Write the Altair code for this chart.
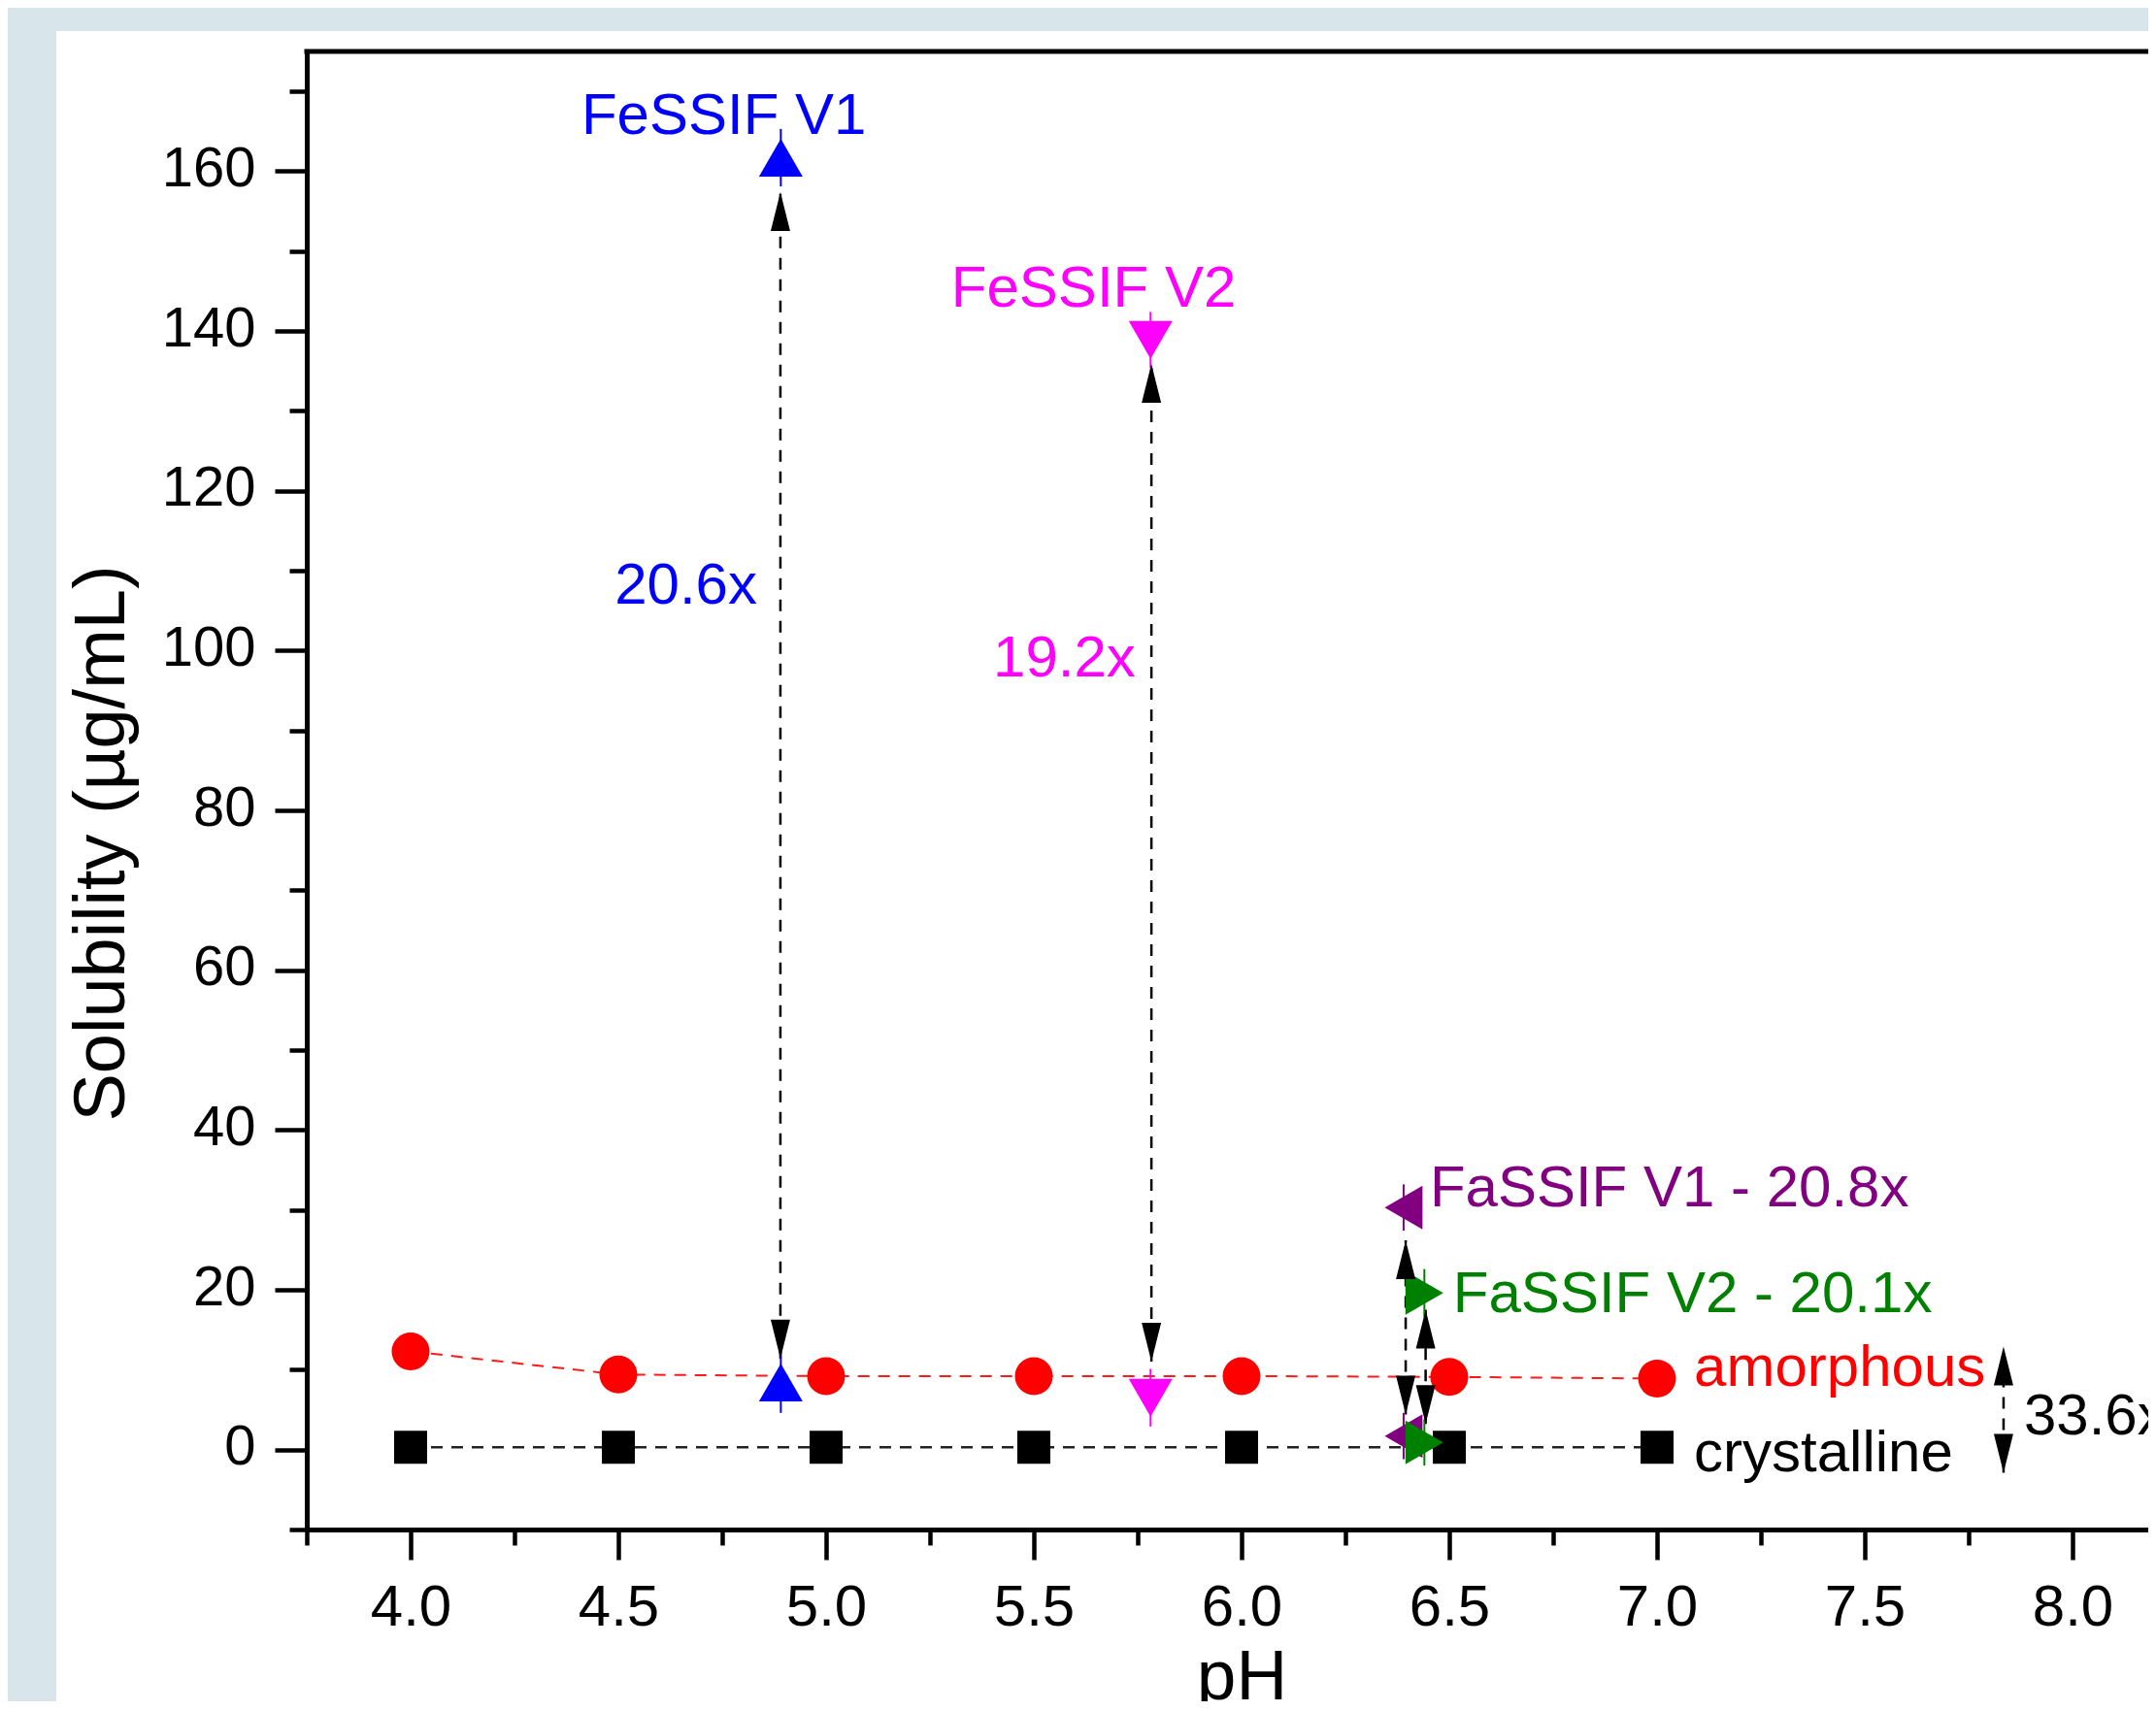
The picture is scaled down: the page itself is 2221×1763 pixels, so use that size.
import altair as alt
import pandas as pd

# ---------------- data ----------------
cryst_ph = [4.0, 4.5, 5.0, 5.5, 6.0, 6.5, 7.0]
cryst_sol = [0.3, 0.3, 0.3, 0.3, 0.3, 0.3, 0.3]

amorph_ph = [4.0, 4.5, 5.0, 5.5, 6.0, 6.5, 7.0]
amorph_sol = [12.3, 9.4, 9.2, 9.2, 9.2, 9.1, 8.9]

media_name = ["FeSSIF V1", "FeSSIF V1", "FeSSIF V2", "FeSSIF V2",
              "FaSSIF V1", "FaSSIF V1", "FaSSIF V2", "FaSSIF V2"]
media_ph = [4.891, 4.891, 5.781, 5.781, 6.39, 6.39, 6.44, 6.44]
media_sol = [161.7, 8.4, 138.9, 6.5, 30.3, 1.7, 19.6, 0.9]
media_err = [3.6, 3.8, 3.5, 3.6, 2.9, 2.9, 3.0, 2.9]
media_shape = ["triangle-up", "triangle-up", "triangle-down", "triangle-down",
               "triangle-left", "triangle-left", "triangle-right", "triangle-right"]
media_color = ["#0000ff", "#0000ff", "#ff00ff", "#ff00ff",
               "#800080", "#800080", "#008000", "#008000"]

arrow_ph = [4.890, 5.783, 6.395, 6.443, 7.834]
arrow_low = [11.4, 11.0, 4.4, 3.2, -2.9]
arrow_high = [157.4, 135.9, 26.2, 17.5, 12.9]

label_text = ["FeSSIF V1", "FeSSIF V2", "20.6x", "19.2x",
              "FaSSIF V1 - 20.8x", "FaSSIF V2 - 20.1x",
              "amorphous", "crystalline", "33.6x"]
label_ph = [4.411, 5.301, 4.491, 5.402, 6.453, 6.509, 7.089, 7.089, 7.883]
label_sol = [164.7, 143.0, 105.9, 96.8, 30.5, 17.25, 8.0, -2.7, 1.9]
label_color = ["#0000ff", "#ff00ff", "#0000ff", "#ff00ff",
               "#800080", "#008000", "#ff0000", "#000000", "#000000"]

x_ticks = [3.75, 4.0, 4.25, 4.5, 4.75, 5.0, 5.25, 5.5, 5.75, 6.0, 6.25, 6.5,
           6.75, 7.0, 7.25, 7.5, 7.75, 8.0]
y_ticks = [-10, 0, 10, 20, 30, 40, 50, 60, 70, 80, 90, 100, 110, 120, 130,
           140, 150, 160, 170]

# ---------------- layout ----------------
W, H = 1897, 1523
XMIN, XMAX = 3.75, 3.75 + W / 428.0
YMIN, YMAX = -10, 175
FONT = "Liberation Sans"

x_scale = alt.Scale(domain=[XMIN, XMAX], nice=False, zero=False)
y_scale = alt.Scale(domain=[YMIN, YMAX], nice=False, zero=False)

x_axis = alt.Axis(
    values=x_ticks,
    labelExpr="(datum.value * 2) % 1 === 0 ? format(datum.value, '.1f') : ''",
    tickSize={"condition": {"test": "(datum.value * 2) % 1 === 0", "value": 31}, "value": 16},
    tickWidth=4.5, tickColor="black",
    domainColor="black", domainWidth=5, domainCap="square",
    labelFont=FONT, labelFontSize=60, labelColor="black",
    labelPadding=67.5, labelBaseline="alphabetic",
    labelOverlap=False, labelFlush=False,
    grid=False, zindex=2,
    title="pH", titleFont=FONT, titleFontSize=73, titleFontWeight="normal",
    titleColor="black", titleX=963, titleY=174, titleAlign="center",
    titleBaseline="alphabetic",
)
y_axis = alt.Axis(
    values=y_ticks, format="d",
    labelExpr="datum.value % 20 === 0 ? datum.label : ''",
    tickSize={"condition": {"test": "datum.value % 20 === 0", "value": 33}, "value": 18},
    tickWidth=4.5, tickColor="black",
    domainColor="black", domainWidth=5, domainCap="square",
    labelFont=FONT, labelFontSize=58, labelColor="black",
    labelPadding=20, labelBaseline="alphabetic", labelOffset=15,
    labelOverlap=False, labelFlush=False,
    grid=False, zindex=2,
    title="Solubility (\u00b5g/mL)", titleFont=FONT, titleFontSize=74,
    titleFontWeight="normal", titleColor="black", titleAngle=270,
    titleX=-189, titleY=815.5, titleAlign="center", titleBaseline="alphabetic",
)


def X(field):
    return alt.X(field, type="quantitative", scale=x_scale, axis=x_axis)


def Y(field):
    return alt.Y(field, type="quantitative", scale=y_scale, axis=y_axis)


cryst_df = pd.DataFrame({"ph": cryst_ph, "sol": cryst_sol})
amorph_df = pd.DataFrame({"ph": amorph_ph, "sol": amorph_sol})
media_df = pd.DataFrame({"ph": media_ph, "sol": media_sol, "name": media_name,
                         "shape": media_shape, "color": media_color})
media_df["lo"] = media_df["sol"] - pd.Series(media_err)
media_df["hi"] = media_df["sol"] + pd.Series(media_err)
arrow_df = pd.DataFrame({"ph": arrow_ph, "lo": arrow_low, "hi": arrow_high})
label_df = pd.DataFrame({"ph": label_ph, "sol": label_sol, "text": label_text,
                         "color": label_color})
one = pd.DataFrame({"k": [0]})

# white panel behind the plot
panel = alt.Chart(one).mark_rect(color="white").encode(
    x=alt.value(-258), x2=alt.value(W + 40), y=alt.value(-21), y2=alt.value(H + 400)
)
# top frame line
top_frame = alt.Chart(one).mark_rule(color="black", strokeWidth=5).encode(
    x=alt.value(-2.5), x2=alt.value(W + 40), y=alt.value(0)
)

cryst_line = alt.Chart(cryst_df).mark_line(
    color="#222222", strokeWidth=2.5, strokeDash=[12, 9]
).encode(x=X("ph"), y=Y("sol"))
amorph_line = alt.Chart(amorph_df).mark_line(
    color="#ff1a1a", strokeWidth=2, strokeDash=[12, 9]
).encode(x=X("ph"), y=Y("sol"))

arrow_lines = alt.Chart(arrow_df).mark_rule(
    color="black", strokeWidth=2.5, strokeDash=[12, 10]
).encode(x=X("ph"), y=Y("lo"), y2="hi")
arrow_up = alt.Chart(arrow_df).mark_point(
    shape="M0,0 L-0.5,2 L0.5,2 Z", filled=True, size=1600, color="black", opacity=1
).encode(x=X("ph"), y=Y("hi"))
arrow_down = alt.Chart(arrow_df).mark_point(
    shape="M0,0 L-0.5,-2 L0.5,-2 Z", filled=True, size=1600, color="black", opacity=1
).encode(x=X("ph"), y=Y("lo"))

err_bars = alt.Chart(media_df).mark_rule(strokeWidth=2).encode(
    x=X("ph"), y=Y("lo"), y2="hi", color=alt.Color("color:N", scale=None)
)

cryst_pts = alt.Chart(cryst_df).mark_point(
    shape="square", filled=True, size=1156, color="black", opacity=1
).encode(x=X("ph"), y=Y("sol"))
amorph_pts = alt.Chart(amorph_df).mark_point(
    shape="circle", filled=True, size=1521, color="#ff0000", opacity=1
).encode(x=X("ph"), y=Y("sol"))
media_pts = alt.Chart(media_df).mark_point(filled=True, size=2025, opacity=1).encode(
    x=X("ph"), y=Y("sol"),
    shape=alt.Shape("shape:N", scale=None),
    color=alt.Color("color:N", scale=None),
)

labels = alt.Chart(label_df).mark_text(
    align="left", baseline="alphabetic", font=FONT, fontSize=60
).encode(x=X("ph"), y=Y("sol"), text="text:N", color=alt.Color("color:N", scale=None))

chart = alt.layer(
    panel, top_frame, cryst_line, amorph_line, arrow_lines, err_bars,
    cryst_pts, amorph_pts, media_pts, arrow_up, arrow_down, labels
).properties(
    width=W, height=H,
    background="#d8e5eb",
    autosize=alt.AutoSizeParams(type="none"),
    padding={"left": 308, "top": 45, "right": 0, "bottom": 177},
).configure_view(stroke="transparent")

chart.save("out.html", embed_options={"renderer": "svg", "actions": False})
